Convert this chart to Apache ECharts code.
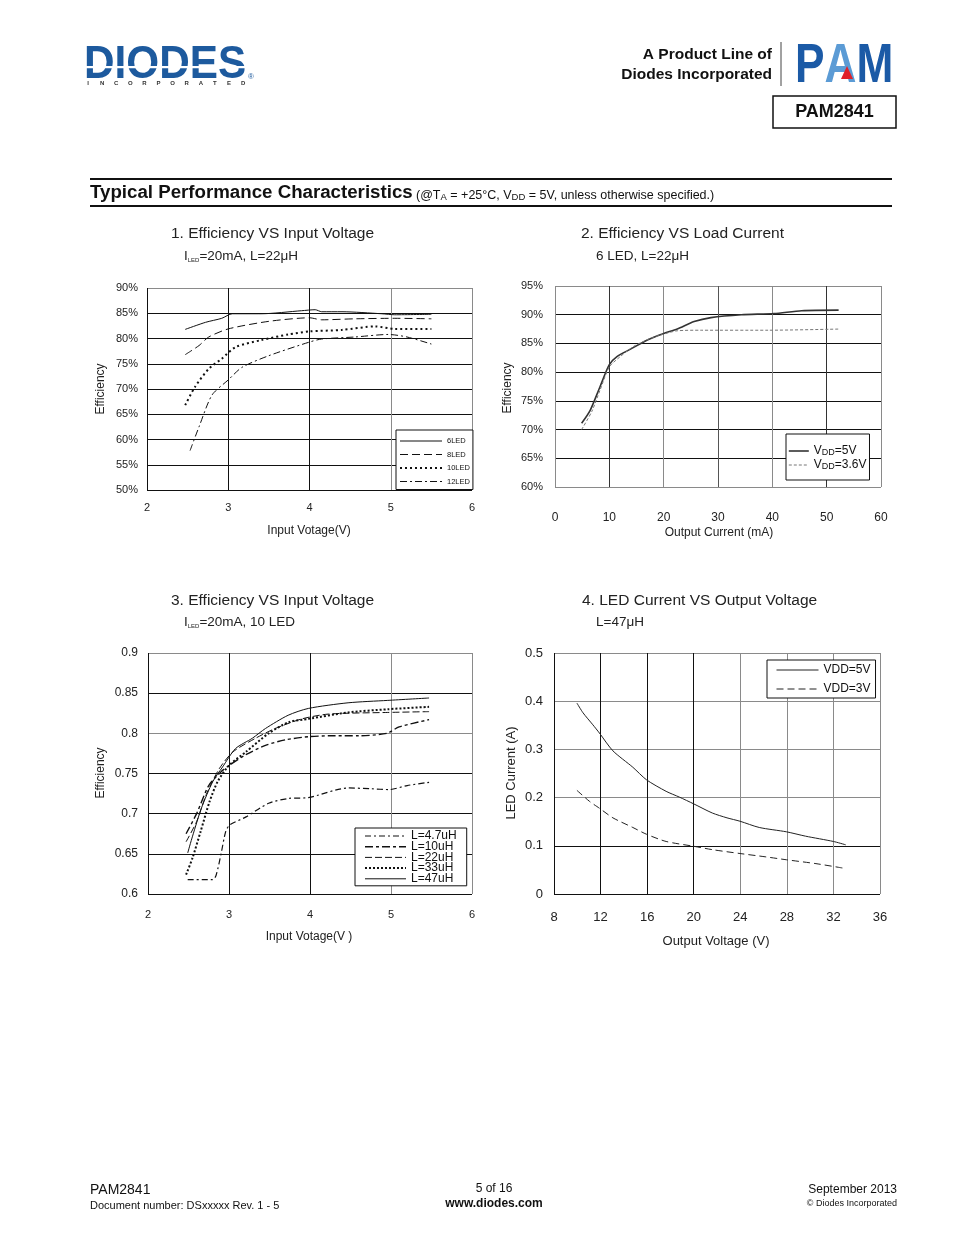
<!DOCTYPE html>
<html><head><meta charset="utf-8">
<script src="https://cdn.jsdelivr.net/npm/echarts@6/dist/echarts.min.js"></script>
<style>html,body{margin:0;padding:0;background:#fff}#c{width:954px;height:1235px}</style>
</head><body><div id="c"></div>
<script>
// ---------- DATA ----------
// Chart 1: Efficiency (%) vs Input Voltage (V)
const c1XTicks = [2, 3, 4, 5, 6];
const c1_6LED  = [[2.47,81.8],[2.72,83.2],[2.92,84.0],[3.05,84.9],[3.41,84.9],[3.9,85.5],[4.07,85.7],[4.15,85.3],[4.4,85.3],[4.89,84.9],[5.05,84.7],[5.5,84.8]];
const c1_8LED  = [[2.47,76.8],[2.64,78.6],[2.76,80.3],[3.0,81.9],[3.5,83.4],[4.0,84.1],[4.15,83.7],[4.56,83.9],[5.05,84.0],[5.5,83.9]];
const c1_10LED = [[2.47,66.8],[2.59,70.4],[2.76,74.0],[2.92,76.0],[3.09,78.3],[3.41,79.7],[3.74,80.8],[4.0,81.4],[4.4,81.7],[4.81,82.4],[5.05,81.9],[5.5,81.9]];
const c1_12LED = [[2.53,57.8],[2.64,62.5],[2.8,68.8],[3.0,71.8],[3.17,74.3],[3.5,76.6],[4.0,79.3],[4.15,79.9],[4.56,80.3],[4.97,80.8],[5.2,80.3],[5.5,78.9]];
// Chart 2: Efficiency (%) vs Output Current (mA)
const c2_5V  = [[4.9,71.1],[6.5,73.4],[8.3,77.5],[10,81.3],[11.4,82.7],[13.9,84.0],[17,85.6],[19.9,86.7],[22.5,87.5],[25.6,88.8],[28.7,89.5],[34.3,90.0],[40.3,90.2],[45.4,90.7],[52.2,90.8]];
const c2_36V = [[4.9,70.0],[6.8,73.2],[8.3,76.9],[10,80.9],[12,82.7],[14.5,84.5],[17.6,85.9],[19.9,86.6],[22.5,87.2],[26.9,87.3],[39.2,87.3],[52.2,87.5]];
// Chart 3: Efficiency vs Input Voltage, per inductor
const c3_4u7 = [[2.49,0.618],[2.80,0.618],[2.84,0.623],[2.90,0.649],[2.96,0.678],[3.01,0.686],[3.21,0.696],[3.49,0.713],[3.74,0.719],[3.98,0.720],[4.47,0.732],[4.76,0.731],[4.98,0.730],[5.2,0.735],[5.47,0.739]];
const c3_10u = [[2.47,0.675],[2.6,0.700],[2.75,0.735],[2.9,0.752],[3.0,0.760],[3.2,0.773],[3.45,0.785],[3.7,0.792],[4.0,0.796],[4.3,0.797],[4.6,0.797],[4.95,0.800],[5.1,0.808],[5.47,0.817]];
const c3_22u = [[2.47,0.665],[2.60,0.690],[2.72,0.724],[2.88,0.756],[3.05,0.777],[3.33,0.794],[3.57,0.806],[3.90,0.818],[4.23,0.824],[4.96,0.826],[5.47,0.827]];
const c3_33u = [[2.47,0.624],[2.55,0.645],[2.65,0.678],[2.76,0.715],[2.86,0.740],[3.0,0.760],[3.21,0.777],[3.49,0.800],[3.74,0.814],[3.98,0.818],[4.47,0.826],[4.96,0.830],[5.47,0.833]];
const c3_47u = [[2.49,0.651],[2.55,0.672],[2.66,0.707],[2.80,0.740],[2.92,0.758],[3.08,0.781],[3.29,0.794],[3.45,0.806],[3.73,0.8225],[3.98,0.831],[4.47,0.838],[4.96,0.841],[5.47,0.844]];
// Chart 4: LED Current (A) vs Output Voltage (V)
const c4_5V = [[9.97,0.396],[10.49,0.376],[11.34,0.351],[11.9,0.334],[13.06,0.297],[14.77,0.263],[15.94,0.237],[17.63,0.213],[18.77,0.201],[20,0.187],[21.6,0.168],[22.86,0.158],[23.97,0.151],[25.63,0.138],[27.97,0.129],[29.6,0.120],[32,0.109],[33.06,0.102]];
const c4_3V = [[9.97,0.215],[11.06,0.192],[11.9,0.178],[13.06,0.158],[14.77,0.138],[15.94,0.124],[17.63,0.109],[20,0.099],[21.6,0.092],[23.97,0.084],[26.2,0.077],[27.97,0.071],[30.5,0.063],[32.77,0.054]];

// ---------- STYLE ----------
const FF = '"Liberation Sans", Arial, sans-serif';
const K = '#111', G = '#8a8a8a';
const chart = echarts.init(document.getElementById('c'), null, {renderer:'canvas'});

function xAx(gi, min, max, interval, colors, fs, margin) {
  return {gridIndex: gi, type:'value', min, max, interval,
    axisLine:{show:false}, axisTick:{show:false},
    splitLine:{show:true, showMinLine:true, showMaxLine:true, lineStyle:{color:colors, width:1}},
    axisLabel:{fontSize:fs, color:'#222', fontFamily:FF, margin}};
}
function yAx(gi, min, max, interval, colors, fs, margin, fmt) {
  return {gridIndex: gi, type:'value', min, max, interval,
    axisLine:{show:false}, axisTick:{show:false},
    splitLine:{show:true, showMinLine:true, showMaxLine:true, lineStyle:{color:colors, width:1}},
    axisLabel:{fontSize:fs, color:'#222', fontFamily:FF, margin, formatter: fmt}};
}
const styles = {
  '6LED':  {color:'#111', width:1, type:'solid'},
  '8LED':  {color:'#111', width:1, type:[8,4]},
  '10LED': {color:'#111', width:2, type:[2,3]},
  '12LED': {color:'#111', width:1, type:[7,3,2,3]},
  '5V':    {color:'#333', width:1.6, type:'solid'},
  '3.6V':  {color:'#777', width:1, type:[3,2]},
  'L=4.7uH': {color:'#111', width:1.2, type:[6,3,2,3]},
  'L=10uH':  {color:'#111', width:1.4, type:[8,3,3,3]},
  'L=22uH':  {color:'#111', width:1, type:[7,3]},
  'L=33uH':  {color:'#111', width:2, type:[2,2]},
  'L=47uH':  {color:'#111', width:1, type:'solid'},
  'VDD=5V':  {color:'#222', width:1, type:'solid'},
  'VDD=3V':  {color:'#222', width:1, type:[7,4]}
};
function ser(name, gi, data) {
  const s = styles[name];
  return {name, type:'line', xAxisIndex:gi, yAxisIndex:gi, data, symbol:'none', showSymbol:false,
    smooth:0.25, lineStyle:{color:s.color, width:s.width, type:s.type}, itemStyle:{color:s.color}, z:3};
}
function legItems(names) {
  return names.map(n => ({name:n, lineStyle:{color:styles[n].color, width:styles[n].width, type:styles[n].type}}));
}
const legBase = {orient:'vertical', selectedMode:false, backgroundColor:'#fff', borderColor:'#111', borderWidth:1,
  itemStyle:{opacity:0, color:'transparent', borderWidth:0}, align:'left'};

function txt(text, x, y, size, opts) {
  opts = opts || {};
  return Object.assign({type:'text', x, y, silent:true, style:{
    text, fill: opts.fill || '#222', font: (opts.weight||'normal') + ' ' + size + 'px ' + FF,
    textAlign: opts.align || 'left', textVerticalAlign:'middle', align: opts.align || 'left', verticalAlign:'middle',
    rich: opts.rich}}, opts.el || {});
}

const graphics = [];
// DIODES logo
graphics.push(txt('DIODES', 84, 65, 47, {weight:'bold', fill:'#1d5a9e', el:{scaleX:0.9}}));
graphics.push({type:'rect', shape:{x:84, y:66, width:166, height:2.2}, style:{fill:'#fff'}, silent:true});
graphics.push(txt('®', 248, 77, 8, {fill:'#1d5a9e'}));
'INCORPORATED'.split('').forEach((ch, i) => graphics.push(txt(ch, 88 + i*14.1, 83, 6, {weight:'bold', fill:'#333', align:'center'})));
// Product line text
graphics.push(txt('A Product Line of', 772, 55, 15.5, {weight:'bold', fill:'#111', align:'right'}));
graphics.push(txt('Diodes Incorporated', 772, 75, 15.5, {weight:'bold', fill:'#111', align:'right'}));
graphics.push({type:'line', shape:{x1:781, y1:42, x2:781, y2:86}, style:{stroke:'#444', lineWidth:1}, silent:true});
// PAM logo
graphics.push(txt('{p|P}{a|A}{m|M}', 795, 67, 56, {weight:'bold', el:{scaleX:0.79},
  rich:{p:{fill:'#1b5aa6', font:'bold 56px '+FF}, a:{fill:'#5b9bd5', font:'bold 56px '+FF}, m:{fill:'#1b5aa6', font:'bold 56px '+FF}}}));
graphics.push({type:'polygon', shape:{points:[[841,79],[847,66],[853,79]]}, style:{fill:'#e0202a'}, silent:true, z:10});
// PAM2841 box
graphics.push({type:'rect', shape:{x:773, y:96, width:123, height:32}, style:{fill:'none', stroke:'#111', lineWidth:1.5}, silent:true});
graphics.push(txt('PAM2841', 834.5, 112.5, 18, {weight:'bold', fill:'#111', align:'center'}));
// Section header
graphics.push({type:'line', shape:{x1:90, y1:179, x2:892, y2:179}, style:{stroke:'#111', lineWidth:2}, silent:true});
graphics.push({type:'line', shape:{x1:90, y1:206, x2:892, y2:206}, style:{stroke:'#111', lineWidth:2}, silent:true});
graphics.push(txt('{b|Typical Performance Characteristics} {s|(@T}{u|A}{s| = +25°C, V}{u|DD}{s| = 5V, unless otherwise specified.)}', 90, 192, 12, {
  rich:{b:{font:'bold 18.7px '+FF, fill:'#111', verticalAlign:'bottom', lineHeight:20},
        s:{font:'12.5px '+FF, fill:'#111', verticalAlign:'bottom', lineHeight:16},
        u:{font:'9.5px '+FF, fill:'#111', verticalAlign:'bottom', lineHeight:14}}}));
// Chart titles
graphics.push(txt('1. Efficiency VS Input Voltage', 171, 234, 15.5));
graphics.push(txt('{a|I}{b|LED}{a|=20mA, L=22μH}', 184, 256, 13, {rich:{a:{font:'13.5px '+FF, fill:'#222', verticalAlign:'bottom', lineHeight:15}, b:{font:'6px '+FF, fill:'#222', verticalAlign:'bottom', lineHeight:10}}}));
graphics.push(txt('2. Efficiency VS Load Current', 581, 234, 15.5));
graphics.push(txt('6 LED, L=22μH', 596, 256, 13.5));
graphics.push(txt('3. Efficiency VS Input Voltage', 171, 601, 15.5));
graphics.push(txt('{a|I}{b|LED}{a|=20mA, 10 LED}', 184, 622, 13, {rich:{a:{font:'13.5px '+FF, fill:'#222', verticalAlign:'bottom', lineHeight:15}, b:{font:'6px '+FF, fill:'#222', verticalAlign:'bottom', lineHeight:10}}}));
graphics.push(txt('4. LED Current VS Output Voltage', 582, 601, 15.5));
graphics.push(txt('L=47μH', 596, 622, 13.5));
// Axis names
graphics.push(txt('Efficiency', 101, 389, 12, {align:'center', el:{rotation:Math.PI/2}}));
graphics.push(txt('Input Votage(V)', 309, 531, 12, {align:'center'}));
graphics.push(txt('Efficiency', 508, 388, 12, {align:'center', el:{rotation:Math.PI/2}}));
graphics.push(txt('Output Current (mA)', 719, 533, 12, {align:'center'}));
graphics.push(txt('Efficiency', 101, 773, 12, {align:'center', el:{rotation:Math.PI/2}}));
graphics.push(txt('Input Votage(V )', 309, 937, 12, {align:'center'}));
graphics.push(txt('LED Current (A)', 511, 773, 13, {align:'center', el:{rotation:Math.PI/2}}));
graphics.push(txt('Output Voltage (V)', 716, 941, 13, {align:'center'}));
// Footer
graphics.push(txt('PAM2841', 90, 1190, 14, {fill:'#111'}));
graphics.push(txt('Document number: DSxxxxx Rev. 1 - 5', 90, 1206, 11, {fill:'#111'}));
graphics.push(txt('5 of 16', 494, 1189, 12, {fill:'#111', align:'center'}));
graphics.push(txt('www.diodes.com', 494, 1204, 12, {fill:'#111', align:'center', weight:'bold'}));
graphics.push(txt('September 2013', 897, 1190, 12, {fill:'#111', align:'right'}));
graphics.push(txt('© Diodes Incorporated', 897, 1204, 9, {fill:'#111', align:'right'}));

const option = {
  animation:false,
  backgroundColor:'#fff',
  grid:[
    {left:147, top:288, width:325, height:202, containLabel:false, outerBoundsMode:'none'},
    {left:555, top:286, width:326, height:201, containLabel:false, outerBoundsMode:'none'},
    {left:148, top:653, width:324, height:241, containLabel:false, outerBoundsMode:'none'},
    {left:554, top:653, width:326, height:241, containLabel:false, outerBoundsMode:'none'}
  ],
  xAxis:[
    xAx(0, 2, 6, 1, [K,K,K,G,G], 11, 12),
    xAx(1, 0, 60, 10, [G,'#333',G,'#555',G,'#333',G], 12, 25),
    xAx(2, 2, 6, 1, [K,K,K,G,G], 11, 15),
    xAx(3, 8, 36, 4, [K,K,K,K,G,G,G,G], 13, 17)
  ],
  yAxis:[
    yAx(0, 50, 90, 5, [K,K,K,K,K,K,K,K,G], 11, 9, v => v + '%'),
    yAx(1, 60, 95, 5, [G,K,K,K,K,K,K,G], 11, 12, v => v + '%'),
    yAx(2, 0.6, 0.9, 0.05, [K,K,K,K,G,K,G], 12, 10, v => String(+v.toFixed(2))),
    yAx(3, 0, 0.5, 0.1, [K,K,G,G,G,G], 13, 11, v => String(+v.toFixed(2)))
  ],
  legend:[
    Object.assign({}, legBase, {left:396, top:430, padding:[7,3,4,3], itemWidth:42, itemHeight:10, itemGap:5.5,
      textStyle:{fontSize:7.5, color:'#111', fontFamily:FF}, data:legItems(['6LED','8LED','10LED','12LED'])}),
    Object.assign({}, legBase, {left:786, top:434, padding:[11,3,9,2], itemWidth:20, itemHeight:12, itemGap:2,
      textStyle:{fontSize:12, color:'#111', fontFamily:FF, rich:{a:{fontSize:12, color:'#111', fontFamily:FF}, b:{fontSize:9, color:'#111', fontFamily:FF, verticalAlign:'bottom'}}},
      formatter: n => '{a|V}{b|DD}{a|=' + n + '}', data:legItems(['5V','3.6V'])}),
    Object.assign({}, legBase, {left:355, top:828, padding:[2,10,1,9], itemWidth:41, itemHeight:8, itemGap:-1.3,
      textStyle:{fontSize:12, lineHeight:10, color:'#111', fontFamily:FF}, data:legItems(['L=4.7uH','L=10uH','L=22uH','L=33uH','L=47uH'])}),
    Object.assign({}, legBase, {left:767, top:660, padding:[4,5,3,9], itemWidth:42, itemHeight:10, itemGap:7,
      textStyle:{fontSize:12, color:'#111', fontFamily:FF}, data:legItems(['VDD=5V','VDD=3V'])})
  ],
  series:[
    ser('6LED',0,c1_6LED), ser('8LED',0,c1_8LED), ser('10LED',0,c1_10LED), ser('12LED',0,c1_12LED),
    ser('5V',1,c2_5V), ser('3.6V',1,c2_36V),
    ser('L=4.7uH',2,c3_4u7), ser('L=10uH',2,c3_10u), ser('L=22uH',2,c3_22u), ser('L=33uH',2,c3_33u), ser('L=47uH',2,c3_47u),
    ser('VDD=5V',3,c4_5V), ser('VDD=3V',3,c4_3V)
  ],
  graphic:{elements:graphics}
};
chart.setOption(option);
</script></body></html>
